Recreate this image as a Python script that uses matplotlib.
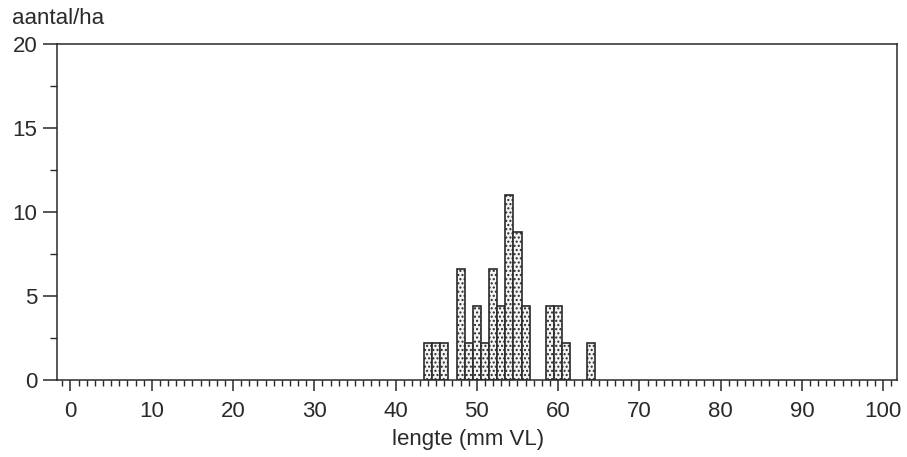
import matplotlib
matplotlib.use("Agg")
import matplotlib.pyplot as plt
from matplotlib.ticker import MultipleLocator

lengths = [44, 45, 46, 48, 49, 50, 51, 52, 53, 54, 55, 56, 59, 60, 61, 64]
counts = [2.2, 2.2, 2.2, 6.6, 2.2, 4.4, 2.2, 6.6, 4.4, 11.0, 8.8, 4.4, 4.4, 4.4, 2.2, 2.2]
x_ticks = [0, 10, 20, 30, 40, 50, 60, 70, 80, 90, 100]
y_ticks = [0, 5, 10, 15, 20]

ink = "#2a2a2a"
plt.rcParams["font.family"] = ["Liberation Sans", "DejaVu Sans"]
plt.rcParams["hatch.linewidth"] = 1.0
plt.rcParams["hatch.color"] = "#808080"

fig = plt.figure(figsize=(9.07, 4.57), dpi=100)
ax = fig.add_axes([57 / 907, 1 - 380 / 457, 840 / 907, 336 / 457])

ax.bar(lengths, counts, width=1.0, color="#f4f4f4", edgecolor=ink,
       linewidth=1.2, hatch="....")

ax.set_xlim(-1.66, 101.7)
ax.set_ylim(0, 20)
ax.set_xticks(x_ticks)
ax.set_yticks(y_ticks)
ax.xaxis.set_minor_locator(MultipleLocator(1))
ax.yaxis.set_minor_locator(MultipleLocator(2.5))

for s in ax.spines.values():
    s.set_color(ink)
    s.set_linewidth(1.1)

ax.tick_params(axis="x", which="major", direction="out", length=8, width=1.1,
               color=ink, labelsize=16, labelcolor=ink, pad=7)
ax.tick_params(axis="x", which="minor", direction="out", length=4, width=1.0,
               color=ink)
ax.tick_params(axis="y", which="major", direction="out", length=10, width=1.1,
               color=ink, labelsize=16, labelcolor=ink, pad=4)
ax.tick_params(axis="y", which="minor", direction="out", length=5, width=1.0,
               color=ink)

ax.set_xlabel("lengte (mm VL)", fontsize=16, color=ink)
ax.xaxis.set_label_coords(0.489, -0.145)
fig.text(12 / 907, 1 - 18 / 457, "aantal/ha", fontsize=16, color=ink,
         ha="left", va="center")

fig.savefig("out.png", dpi=100)
